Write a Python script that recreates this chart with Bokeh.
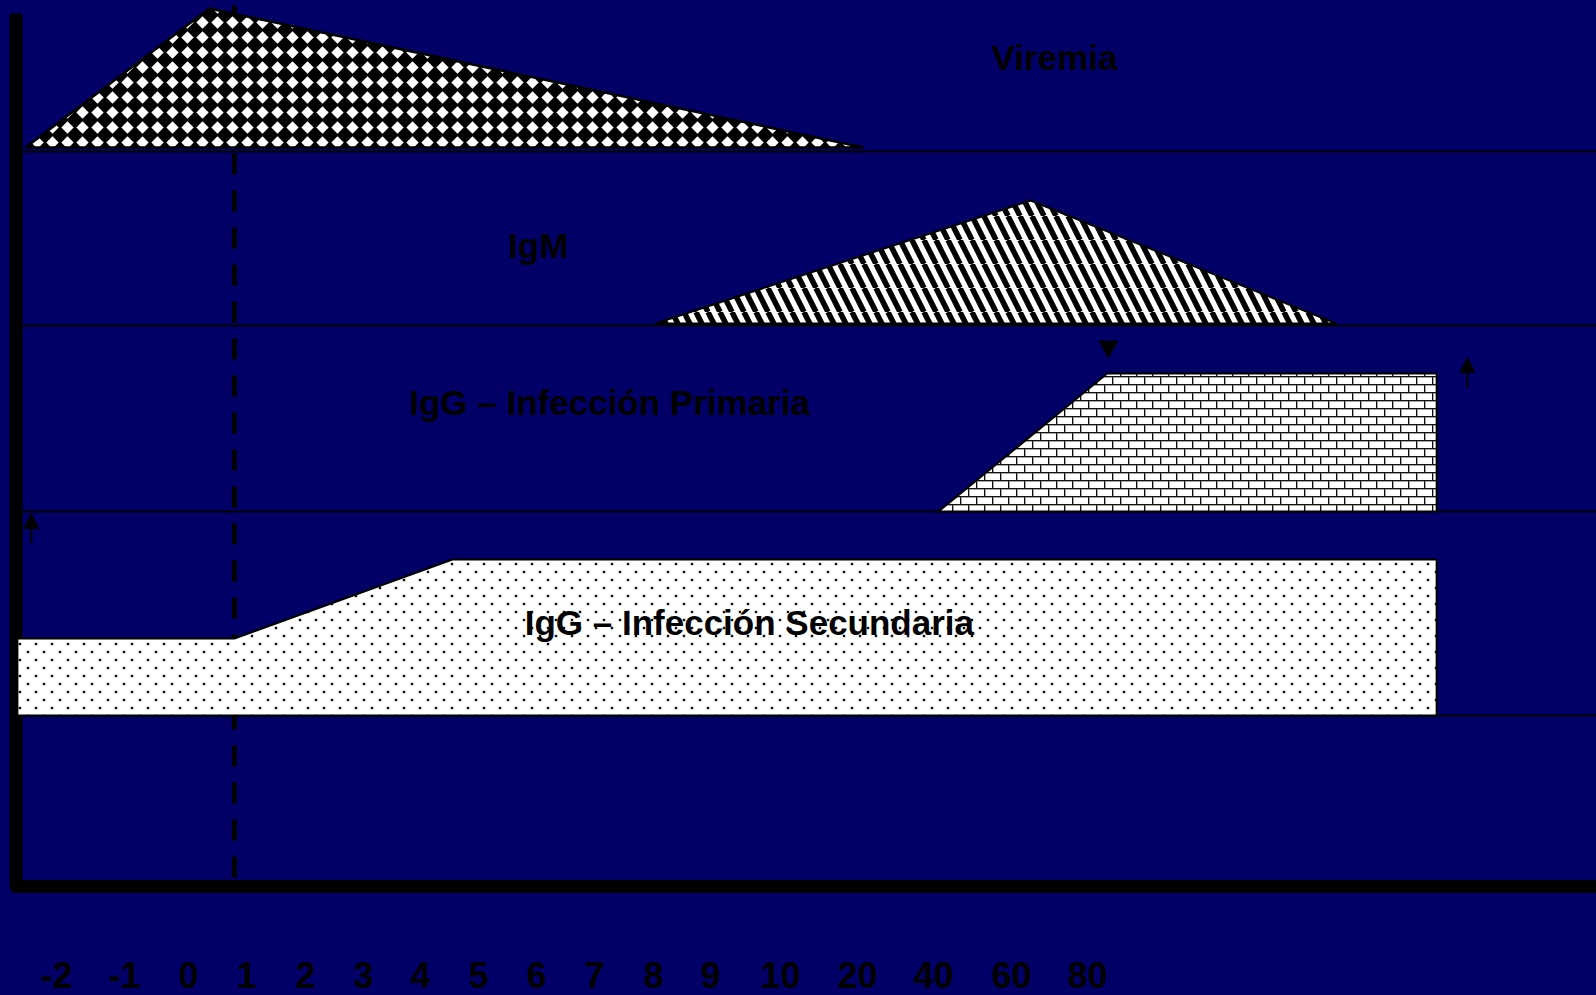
from bokeh.plotting import figure
from bokeh.models import (Range1d, FixedTicker, Arrow, NormalHead, CanvasTexture,
                          GlobalInlineStyleSheet, ColumnDataSource)
from bokeh.core.properties import value
from bokeh.embed import file_html
from bokeh.resources import INLINE

# ---------------- data ----------------
TICK_LABELS = ["-2", "-1", "0", "1", "2", "3", "4", "5", "6", "7", "8", "9",
               "10", "20", "40", "60", "80"]
TICK_POS = [-2.276, -1.103, 0.0, 1.0, 2.017, 3.017, 4.0, 5.0, 6.0, 7.0, 8.017,
            9.0, 10.207, 11.534, 12.845, 14.19, 15.5]

VIR_X = [-2.81, 0.36, 11.64]
VIR_Y = [73.9, 87.8, 73.9]

IGM_X = [8.05, 14.52, 19.79]
IGM_Y = [56.3, 68.6, 56.3]

IGGP_X = [12.93, 15.84, 21.52, 21.52]
IGGP_Y = [37.5, 51.3, 51.3, 37.5]

IGGS_X = [-2.95, -2.95, 0.79, 4.55, 21.52, 21.52]
IGGS_Y = [17.1, 24.8, 24.8, 32.7, 32.7, 17.1]

BASE_Y = [73.5, 56.1, 37.5, 17.1]
BASE_X0 = -2.90
BASE_X1 = 24.3

ONSET_X = 0.79
ONSET_Y = [88.1, 0.6]

AXIS_X = [-2.974, -2.974, 24.3]
AXIS_Y = [87.3, 0.0, 0.0]

ARROW_X0 = [-2.71, 22.05]
ARROW_Y0 = [34.3, 49.9]
ARROW_X1 = [-2.71, 22.05]
ARROW_Y1 = [37.3, 52.9]

MARK_X = [15.86]
MARK_Y = [54.0]

LABELS = ["Viremia", "IgM", "IgG \u2013 Infección Primaria", "IgG \u2013 Infección Secundaria"]
LABEL_X = [14.93, 6.03, 7.26, 9.67]
LABEL_Y = [82.9, 64.15, 48.4, 26.4]

NAVY = "#000066"

# ---------------- textures ----------------
diamond_js = """
const s = 15; ctx.canvas.width = s; ctx.canvas.height = s;
ctx.fillStyle = '#000000'; ctx.fillRect(0, 0, s, s);
ctx.fillStyle = '#ffffff';
const c = s / 2, r = 6.2;
ctx.beginPath(); ctx.moveTo(c, c - r); ctx.lineTo(c + r, c); ctx.lineTo(c, c + r); ctx.lineTo(c - r, c); ctx.closePath(); ctx.fill();
"""

stripe_js = """
const s = 24; ctx.canvas.width = s; ctx.canvas.height = s;
ctx.fillStyle = '#ffffff'; ctx.fillRect(0, 0, s, s);
ctx.strokeStyle = '#000000'; ctx.lineWidth = 5.5;
for (let k = -2; k <= 3; k++) {
  const x0 = k * s / 2;
  ctx.beginPath(); ctx.moveTo(x0, 0); ctx.lineTo(x0 + s / 2, s); ctx.stroke();
}
"""

brick_js = """
const s = 16, h = 8; ctx.canvas.width = s; ctx.canvas.height = s;
ctx.fillStyle = '#ffffff'; ctx.fillRect(0, 0, s, s);
ctx.fillStyle = '#a8a8a8';
ctx.fillRect(0, 1, s, 1); ctx.fillRect(0, h + 1, s, 1);
ctx.fillRect(1, 0, 1, h); ctx.fillRect(h + 1, h, 1, h);
ctx.fillStyle = '#111111';
ctx.fillRect(0, 0, s, 1); ctx.fillRect(0, h, s, 1);
ctx.fillRect(0, 0, 1, h); ctx.fillRect(h, h, 1, h);
"""

dots_js = """
const s = 16, h = 8; ctx.canvas.width = s; ctx.canvas.height = s;
ctx.fillStyle = '#ffffff'; ctx.fillRect(0, 0, s, s);
ctx.fillStyle = '#a0a0a0';
ctx.fillRect(2.5, 2.5, 3, 3); ctx.fillRect(10.5, 10.5, 3, 3);
ctx.fillStyle = '#111111';
ctx.fillRect(3, 3, 2, 2); ctx.fillRect(11, 11, 2, 2);
"""

# ---------------- figure ----------------
p = figure(frame_width=1596, frame_height=920,
           x_range=Range1d(-3.2414, 24.2759), y_range=Range1d(-3.4, 88.6),
           output_backend="svg", toolbar_location=None, y_axis_location=None,
           min_border=0, min_border_bottom=75)
p.background_fill_color = NAVY
p.border_fill_color = NAVY
p.outline_line_color = None
p.grid.visible = False
p.stylesheets = [GlobalInlineStyleSheet(css="body { background-color: #000066; }")]

xa = p.xaxis[0]
xa.ticker = FixedTicker(ticks=TICK_POS)
xa.major_label_overrides = {t: l for t, l in zip(TICK_POS, TICK_LABELS)}
xa.axis_line_color = None
xa.major_tick_line_color = None
xa.major_tick_out = 0
xa.major_tick_in = 0
xa.minor_tick_line_color = None
xa.major_label_standoff = 41
xa.major_label_text_font = "Liberation Sans"
xa.major_label_text_font_style = "bold"
xa.major_label_text_font_size = "36px"
xa.major_label_text_color = "black"

# axis bar (L-shaped)
p.line(AXIS_X, AXIS_Y, line_color="black", line_width=13, line_join="round")

# onset dashed line
p.line([ONSET_X, ONSET_X], ONSET_Y, line_color="black", line_width=5, line_dash="21 16")

# baselines
p.segment(x0=[BASE_X0] * len(BASE_Y), y0=BASE_Y, x1=[BASE_X1] * len(BASE_Y), y1=BASE_Y,
          line_color="black", line_width=2)

# shapes
p.patch(IGGS_X, IGGS_Y, fill_color="white", line_color="black", line_width=2,
        hatch_pattern="dots", hatch_scale=16,
        hatch_extra={"dots": CanvasTexture(code=dots_js)})
p.patch(IGGP_X, IGGP_Y, fill_color="white", line_color="black", line_width=2,
        hatch_pattern="bricks", hatch_scale=16,
        hatch_extra={"bricks": CanvasTexture(code=brick_js)})
p.patch(IGM_X, IGM_Y, fill_color="white", line_color="black", line_width=2,
        hatch_pattern="stripes", hatch_scale=24,
        hatch_extra={"stripes": CanvasTexture(code=stripe_js)})
p.patch(VIR_X, VIR_Y, fill_color="black", line_color="black", line_width=2.5,
        hatch_pattern="diamonds", hatch_scale=15,
        hatch_extra={"diamonds": CanvasTexture(code=diamond_js)})

# arrows and marker
asrc = ColumnDataSource(dict(x0=ARROW_X0, y0=ARROW_Y0, x1=ARROW_X1, y1=ARROW_Y1))
p.add_layout(Arrow(end=NormalHead(size=15, fill_color="black", line_color="black", line_width=1),
                   x_start="x0", y_start="y0", x_end="x1", y_end="y1", source=asrc,
                   line_color="black", line_width=2))
p.scatter(MARK_X, MARK_Y, marker="inverted_triangle", size=19, color="black")

# labels
p.text(x=LABEL_X, y=LABEL_Y, text=LABELS, text_font=value("Liberation Sans"),
       text_font_style="bold", text_font_size="35px", text_align="center",
       text_baseline="alphabetic", text_color="black")

open("out.html", "w").write(file_html(p, INLINE))
